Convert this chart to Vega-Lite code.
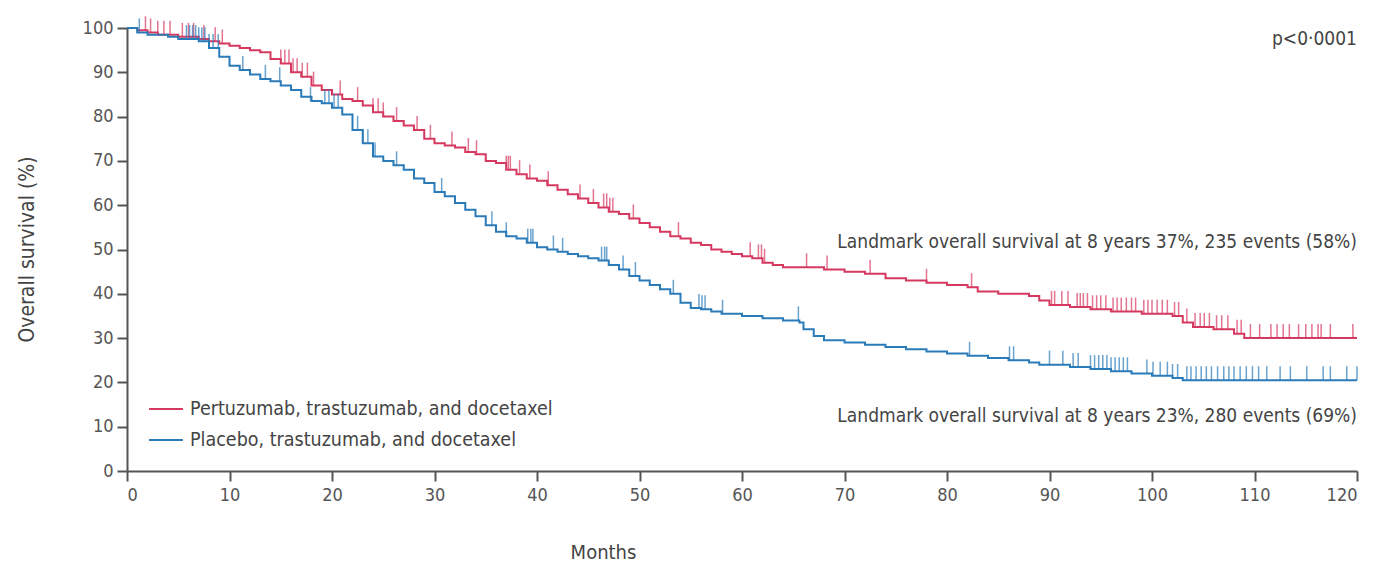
{
  "$schema": "https://vega.github.io/schema/vega-lite/v6.json",
  "width": 1230,
  "height": 443,
  "autosize": {"type": "none"},
  "padding": {"left": 127, "top": 28, "right": 22, "bottom": 91},
  "background": "white",
  "config": {
    "font": "'Liberation Sans Narrow', 'DejaVu Sans Condensed', 'Open Sans', sans-serif",
    "view": {"stroke": null},
    "axis": {
      "grid": false,
      "domainColor": "#555555",
      "domainWidth": 2,
      "tickColor": "#555555",
      "tickWidth": 2,
      "tickSize": 10,
      "labelColor": "#555555",
      "labelFontSize": 18,
      "titleColor": "#444444",
      "titleFontSize": 20,
      "titleFontWeight": "normal"
    },
    "legend": {
      "labelFontSize": 19.5,
      "labelColor": "#444444",
      "labelLimit": 600
    }
  },
  "datasets": {
    "km": [
      {"arm": "Pertuzumab, trastuzumab, and docetaxel", "month": 0, "surv": 100},
      {"arm": "Pertuzumab, trastuzumab, and docetaxel", "month": 1, "surv": 99.5},
      {"arm": "Pertuzumab, trastuzumab, and docetaxel", "month": 2, "surv": 99},
      {"arm": "Pertuzumab, trastuzumab, and docetaxel", "month": 3, "surv": 98.5},
      {"arm": "Pertuzumab, trastuzumab, and docetaxel", "month": 5, "surv": 98},
      {"arm": "Pertuzumab, trastuzumab, and docetaxel", "month": 7, "surv": 97.5},
      {"arm": "Pertuzumab, trastuzumab, and docetaxel", "month": 8, "surv": 97},
      {"arm": "Pertuzumab, trastuzumab, and docetaxel", "month": 9, "surv": 96.5},
      {"arm": "Pertuzumab, trastuzumab, and docetaxel", "month": 10, "surv": 96},
      {"arm": "Pertuzumab, trastuzumab, and docetaxel", "month": 11, "surv": 95.5},
      {"arm": "Pertuzumab, trastuzumab, and docetaxel", "month": 12, "surv": 95},
      {"arm": "Pertuzumab, trastuzumab, and docetaxel", "month": 13, "surv": 94.5},
      {"arm": "Pertuzumab, trastuzumab, and docetaxel", "month": 14, "surv": 93},
      {"arm": "Pertuzumab, trastuzumab, and docetaxel", "month": 15, "surv": 92},
      {"arm": "Pertuzumab, trastuzumab, and docetaxel", "month": 16, "surv": 90},
      {"arm": "Pertuzumab, trastuzumab, and docetaxel", "month": 17, "surv": 89},
      {"arm": "Pertuzumab, trastuzumab, and docetaxel", "month": 18, "surv": 87},
      {"arm": "Pertuzumab, trastuzumab, and docetaxel", "month": 19, "surv": 86},
      {"arm": "Pertuzumab, trastuzumab, and docetaxel", "month": 20, "surv": 85},
      {"arm": "Pertuzumab, trastuzumab, and docetaxel", "month": 21, "surv": 84},
      {"arm": "Pertuzumab, trastuzumab, and docetaxel", "month": 22, "surv": 83.5},
      {"arm": "Pertuzumab, trastuzumab, and docetaxel", "month": 23, "surv": 82.5},
      {"arm": "Pertuzumab, trastuzumab, and docetaxel", "month": 24, "surv": 81},
      {"arm": "Pertuzumab, trastuzumab, and docetaxel", "month": 25, "surv": 80},
      {"arm": "Pertuzumab, trastuzumab, and docetaxel", "month": 26, "surv": 79},
      {"arm": "Pertuzumab, trastuzumab, and docetaxel", "month": 27, "surv": 78},
      {"arm": "Pertuzumab, trastuzumab, and docetaxel", "month": 28, "surv": 77},
      {"arm": "Pertuzumab, trastuzumab, and docetaxel", "month": 29, "surv": 75},
      {"arm": "Pertuzumab, trastuzumab, and docetaxel", "month": 30, "surv": 74},
      {"arm": "Pertuzumab, trastuzumab, and docetaxel", "month": 31, "surv": 73.5},
      {"arm": "Pertuzumab, trastuzumab, and docetaxel", "month": 32, "surv": 73},
      {"arm": "Pertuzumab, trastuzumab, and docetaxel", "month": 33, "surv": 72},
      {"arm": "Pertuzumab, trastuzumab, and docetaxel", "month": 34, "surv": 71.5},
      {"arm": "Pertuzumab, trastuzumab, and docetaxel", "month": 35, "surv": 70},
      {"arm": "Pertuzumab, trastuzumab, and docetaxel", "month": 36, "surv": 69.5},
      {"arm": "Pertuzumab, trastuzumab, and docetaxel", "month": 37, "surv": 68},
      {"arm": "Pertuzumab, trastuzumab, and docetaxel", "month": 38, "surv": 67},
      {"arm": "Pertuzumab, trastuzumab, and docetaxel", "month": 39, "surv": 66},
      {"arm": "Pertuzumab, trastuzumab, and docetaxel", "month": 40, "surv": 65.5},
      {"arm": "Pertuzumab, trastuzumab, and docetaxel", "month": 41, "surv": 64.5},
      {"arm": "Pertuzumab, trastuzumab, and docetaxel", "month": 42, "surv": 63.5},
      {"arm": "Pertuzumab, trastuzumab, and docetaxel", "month": 43, "surv": 62.5},
      {"arm": "Pertuzumab, trastuzumab, and docetaxel", "month": 44, "surv": 61.5},
      {"arm": "Pertuzumab, trastuzumab, and docetaxel", "month": 45, "surv": 60.5},
      {"arm": "Pertuzumab, trastuzumab, and docetaxel", "month": 46, "surv": 59.5},
      {"arm": "Pertuzumab, trastuzumab, and docetaxel", "month": 47, "surv": 58.5},
      {"arm": "Pertuzumab, trastuzumab, and docetaxel", "month": 48, "surv": 58},
      {"arm": "Pertuzumab, trastuzumab, and docetaxel", "month": 49, "surv": 57},
      {"arm": "Pertuzumab, trastuzumab, and docetaxel", "month": 50, "surv": 56},
      {"arm": "Pertuzumab, trastuzumab, and docetaxel", "month": 51, "surv": 55},
      {"arm": "Pertuzumab, trastuzumab, and docetaxel", "month": 52, "surv": 54},
      {"arm": "Pertuzumab, trastuzumab, and docetaxel", "month": 53, "surv": 53},
      {"arm": "Pertuzumab, trastuzumab, and docetaxel", "month": 54, "surv": 52.5},
      {"arm": "Pertuzumab, trastuzumab, and docetaxel", "month": 55, "surv": 51.5},
      {"arm": "Pertuzumab, trastuzumab, and docetaxel", "month": 56, "surv": 51},
      {"arm": "Pertuzumab, trastuzumab, and docetaxel", "month": 57, "surv": 50},
      {"arm": "Pertuzumab, trastuzumab, and docetaxel", "month": 58, "surv": 49.5},
      {"arm": "Pertuzumab, trastuzumab, and docetaxel", "month": 59, "surv": 49},
      {"arm": "Pertuzumab, trastuzumab, and docetaxel", "month": 60, "surv": 48.5},
      {"arm": "Pertuzumab, trastuzumab, and docetaxel", "month": 61, "surv": 48},
      {"arm": "Pertuzumab, trastuzumab, and docetaxel", "month": 62, "surv": 47},
      {"arm": "Pertuzumab, trastuzumab, and docetaxel", "month": 63, "surv": 46.5},
      {"arm": "Pertuzumab, trastuzumab, and docetaxel", "month": 64, "surv": 46},
      {"arm": "Pertuzumab, trastuzumab, and docetaxel", "month": 68, "surv": 45.5},
      {"arm": "Pertuzumab, trastuzumab, and docetaxel", "month": 70, "surv": 45},
      {"arm": "Pertuzumab, trastuzumab, and docetaxel", "month": 72, "surv": 44.5},
      {"arm": "Pertuzumab, trastuzumab, and docetaxel", "month": 74, "surv": 43.5},
      {"arm": "Pertuzumab, trastuzumab, and docetaxel", "month": 76, "surv": 43},
      {"arm": "Pertuzumab, trastuzumab, and docetaxel", "month": 78, "surv": 42.5},
      {"arm": "Pertuzumab, trastuzumab, and docetaxel", "month": 80, "surv": 42},
      {"arm": "Pertuzumab, trastuzumab, and docetaxel", "month": 82, "surv": 41.5},
      {"arm": "Pertuzumab, trastuzumab, and docetaxel", "month": 83, "surv": 40.5},
      {"arm": "Pertuzumab, trastuzumab, and docetaxel", "month": 85, "surv": 40},
      {"arm": "Pertuzumab, trastuzumab, and docetaxel", "month": 88, "surv": 39.5},
      {"arm": "Pertuzumab, trastuzumab, and docetaxel", "month": 89, "surv": 38.5},
      {"arm": "Pertuzumab, trastuzumab, and docetaxel", "month": 90, "surv": 37.5},
      {"arm": "Pertuzumab, trastuzumab, and docetaxel", "month": 92, "surv": 37},
      {"arm": "Pertuzumab, trastuzumab, and docetaxel", "month": 94, "surv": 36.5},
      {"arm": "Pertuzumab, trastuzumab, and docetaxel", "month": 96, "surv": 36},
      {"arm": "Pertuzumab, trastuzumab, and docetaxel", "month": 99, "surv": 35.5},
      {"arm": "Pertuzumab, trastuzumab, and docetaxel", "month": 102, "surv": 35},
      {"arm": "Pertuzumab, trastuzumab, and docetaxel", "month": 103, "surv": 33.5},
      {"arm": "Pertuzumab, trastuzumab, and docetaxel", "month": 104, "surv": 32.5},
      {"arm": "Pertuzumab, trastuzumab, and docetaxel", "month": 106, "surv": 32},
      {"arm": "Pertuzumab, trastuzumab, and docetaxel", "month": 108, "surv": 31},
      {"arm": "Pertuzumab, trastuzumab, and docetaxel", "month": 109, "surv": 30},
      {"arm": "Pertuzumab, trastuzumab, and docetaxel", "month": 120, "surv": 30},
      {"arm": "Placebo, trastuzumab, and docetaxel", "month": 0, "surv": 100},
      {"arm": "Placebo, trastuzumab, and docetaxel", "month": 1, "surv": 99},
      {"arm": "Placebo, trastuzumab, and docetaxel", "month": 2, "surv": 98.5},
      {"arm": "Placebo, trastuzumab, and docetaxel", "month": 4, "surv": 98},
      {"arm": "Placebo, trastuzumab, and docetaxel", "month": 5, "surv": 97.5},
      {"arm": "Placebo, trastuzumab, and docetaxel", "month": 7, "surv": 97},
      {"arm": "Placebo, trastuzumab, and docetaxel", "month": 8, "surv": 95.5},
      {"arm": "Placebo, trastuzumab, and docetaxel", "month": 9, "surv": 93.5},
      {"arm": "Placebo, trastuzumab, and docetaxel", "month": 10, "surv": 91.5},
      {"arm": "Placebo, trastuzumab, and docetaxel", "month": 11, "surv": 90.5},
      {"arm": "Placebo, trastuzumab, and docetaxel", "month": 12, "surv": 89.5},
      {"arm": "Placebo, trastuzumab, and docetaxel", "month": 13, "surv": 88.5},
      {"arm": "Placebo, trastuzumab, and docetaxel", "month": 14, "surv": 88},
      {"arm": "Placebo, trastuzumab, and docetaxel", "month": 15, "surv": 87},
      {"arm": "Placebo, trastuzumab, and docetaxel", "month": 16, "surv": 86},
      {"arm": "Placebo, trastuzumab, and docetaxel", "month": 17, "surv": 84.5},
      {"arm": "Placebo, trastuzumab, and docetaxel", "month": 18, "surv": 83.5},
      {"arm": "Placebo, trastuzumab, and docetaxel", "month": 19, "surv": 83},
      {"arm": "Placebo, trastuzumab, and docetaxel", "month": 20, "surv": 82},
      {"arm": "Placebo, trastuzumab, and docetaxel", "month": 21, "surv": 80.5},
      {"arm": "Placebo, trastuzumab, and docetaxel", "month": 22, "surv": 77},
      {"arm": "Placebo, trastuzumab, and docetaxel", "month": 23, "surv": 74},
      {"arm": "Placebo, trastuzumab, and docetaxel", "month": 24, "surv": 71},
      {"arm": "Placebo, trastuzumab, and docetaxel", "month": 25, "surv": 70},
      {"arm": "Placebo, trastuzumab, and docetaxel", "month": 26, "surv": 69},
      {"arm": "Placebo, trastuzumab, and docetaxel", "month": 27, "surv": 68},
      {"arm": "Placebo, trastuzumab, and docetaxel", "month": 28, "surv": 66},
      {"arm": "Placebo, trastuzumab, and docetaxel", "month": 29, "surv": 65},
      {"arm": "Placebo, trastuzumab, and docetaxel", "month": 30, "surv": 63},
      {"arm": "Placebo, trastuzumab, and docetaxel", "month": 31, "surv": 62},
      {"arm": "Placebo, trastuzumab, and docetaxel", "month": 32, "surv": 60.5},
      {"arm": "Placebo, trastuzumab, and docetaxel", "month": 33, "surv": 59},
      {"arm": "Placebo, trastuzumab, and docetaxel", "month": 34, "surv": 57.5},
      {"arm": "Placebo, trastuzumab, and docetaxel", "month": 35, "surv": 55.5},
      {"arm": "Placebo, trastuzumab, and docetaxel", "month": 36, "surv": 54},
      {"arm": "Placebo, trastuzumab, and docetaxel", "month": 37, "surv": 53},
      {"arm": "Placebo, trastuzumab, and docetaxel", "month": 38, "surv": 52.5},
      {"arm": "Placebo, trastuzumab, and docetaxel", "month": 39, "surv": 51.5},
      {"arm": "Placebo, trastuzumab, and docetaxel", "month": 40, "surv": 50.5},
      {"arm": "Placebo, trastuzumab, and docetaxel", "month": 41, "surv": 50},
      {"arm": "Placebo, trastuzumab, and docetaxel", "month": 42, "surv": 49.5},
      {"arm": "Placebo, trastuzumab, and docetaxel", "month": 43, "surv": 49},
      {"arm": "Placebo, trastuzumab, and docetaxel", "month": 44, "surv": 48.5},
      {"arm": "Placebo, trastuzumab, and docetaxel", "month": 45, "surv": 48},
      {"arm": "Placebo, trastuzumab, and docetaxel", "month": 46, "surv": 47.5},
      {"arm": "Placebo, trastuzumab, and docetaxel", "month": 47, "surv": 46.5},
      {"arm": "Placebo, trastuzumab, and docetaxel", "month": 48, "surv": 45.5},
      {"arm": "Placebo, trastuzumab, and docetaxel", "month": 49, "surv": 44},
      {"arm": "Placebo, trastuzumab, and docetaxel", "month": 50, "surv": 43},
      {"arm": "Placebo, trastuzumab, and docetaxel", "month": 51, "surv": 42},
      {"arm": "Placebo, trastuzumab, and docetaxel", "month": 52, "surv": 41},
      {"arm": "Placebo, trastuzumab, and docetaxel", "month": 53, "surv": 40},
      {"arm": "Placebo, trastuzumab, and docetaxel", "month": 54, "surv": 38},
      {"arm": "Placebo, trastuzumab, and docetaxel", "month": 55, "surv": 36.8},
      {"arm": "Placebo, trastuzumab, and docetaxel", "month": 56, "surv": 36.5},
      {"arm": "Placebo, trastuzumab, and docetaxel", "month": 57, "surv": 36},
      {"arm": "Placebo, trastuzumab, and docetaxel", "month": 58, "surv": 35.5},
      {"arm": "Placebo, trastuzumab, and docetaxel", "month": 60, "surv": 35},
      {"arm": "Placebo, trastuzumab, and docetaxel", "month": 62, "surv": 34.5},
      {"arm": "Placebo, trastuzumab, and docetaxel", "month": 64, "surv": 34},
      {"arm": "Placebo, trastuzumab, and docetaxel", "month": 65.6, "surv": 33.5},
      {"arm": "Placebo, trastuzumab, and docetaxel", "month": 66, "surv": 32},
      {"arm": "Placebo, trastuzumab, and docetaxel", "month": 67, "surv": 30.5},
      {"arm": "Placebo, trastuzumab, and docetaxel", "month": 68, "surv": 29.5},
      {"arm": "Placebo, trastuzumab, and docetaxel", "month": 70, "surv": 29},
      {"arm": "Placebo, trastuzumab, and docetaxel", "month": 72, "surv": 28.5},
      {"arm": "Placebo, trastuzumab, and docetaxel", "month": 74, "surv": 28},
      {"arm": "Placebo, trastuzumab, and docetaxel", "month": 76, "surv": 27.5},
      {"arm": "Placebo, trastuzumab, and docetaxel", "month": 78, "surv": 27},
      {"arm": "Placebo, trastuzumab, and docetaxel", "month": 80, "surv": 26.5},
      {"arm": "Placebo, trastuzumab, and docetaxel", "month": 82, "surv": 26},
      {"arm": "Placebo, trastuzumab, and docetaxel", "month": 84, "surv": 25.5},
      {"arm": "Placebo, trastuzumab, and docetaxel", "month": 86, "surv": 25},
      {"arm": "Placebo, trastuzumab, and docetaxel", "month": 88, "surv": 24.5},
      {"arm": "Placebo, trastuzumab, and docetaxel", "month": 89, "surv": 24},
      {"arm": "Placebo, trastuzumab, and docetaxel", "month": 92, "surv": 23.5},
      {"arm": "Placebo, trastuzumab, and docetaxel", "month": 94, "surv": 23},
      {"arm": "Placebo, trastuzumab, and docetaxel", "month": 96, "surv": 22.5},
      {"arm": "Placebo, trastuzumab, and docetaxel", "month": 98, "surv": 22},
      {"arm": "Placebo, trastuzumab, and docetaxel", "month": 100, "surv": 21.5},
      {"arm": "Placebo, trastuzumab, and docetaxel", "month": 102, "surv": 21},
      {"arm": "Placebo, trastuzumab, and docetaxel", "month": 103, "surv": 20.5},
      {"arm": "Placebo, trastuzumab, and docetaxel", "month": 120, "surv": 20.5}
    ],
    "censored": [
      {"arm": "Pertuzumab, trastuzumab, and docetaxel", "month": 1.8, "surv": 99.5},
      {"arm": "Pertuzumab, trastuzumab, and docetaxel", "month": 2.3, "surv": 99},
      {"arm": "Pertuzumab, trastuzumab, and docetaxel", "month": 3.0, "surv": 98.5},
      {"arm": "Pertuzumab, trastuzumab, and docetaxel", "month": 3.6, "surv": 98.5},
      {"arm": "Pertuzumab, trastuzumab, and docetaxel", "month": 4.2, "surv": 98.5},
      {"arm": "Pertuzumab, trastuzumab, and docetaxel", "month": 5.4, "surv": 98},
      {"arm": "Pertuzumab, trastuzumab, and docetaxel", "month": 6.0, "surv": 98},
      {"arm": "Pertuzumab, trastuzumab, and docetaxel", "month": 6.5, "surv": 98},
      {"arm": "Pertuzumab, trastuzumab, and docetaxel", "month": 7.5, "surv": 97.5},
      {"arm": "Pertuzumab, trastuzumab, and docetaxel", "month": 8.6, "surv": 97},
      {"arm": "Pertuzumab, trastuzumab, and docetaxel", "month": 9.3, "surv": 96.5},
      {"arm": "Pertuzumab, trastuzumab, and docetaxel", "month": 15.0, "surv": 92},
      {"arm": "Pertuzumab, trastuzumab, and docetaxel", "month": 15.4, "surv": 92},
      {"arm": "Pertuzumab, trastuzumab, and docetaxel", "month": 15.8, "surv": 92},
      {"arm": "Pertuzumab, trastuzumab, and docetaxel", "month": 16.2, "surv": 90},
      {"arm": "Pertuzumab, trastuzumab, and docetaxel", "month": 16.6, "surv": 90},
      {"arm": "Pertuzumab, trastuzumab, and docetaxel", "month": 17.1, "surv": 89},
      {"arm": "Pertuzumab, trastuzumab, and docetaxel", "month": 17.6, "surv": 89},
      {"arm": "Pertuzumab, trastuzumab, and docetaxel", "month": 18.2, "surv": 87},
      {"arm": "Pertuzumab, trastuzumab, and docetaxel", "month": 20.8, "surv": 85},
      {"arm": "Pertuzumab, trastuzumab, and docetaxel", "month": 22.5, "surv": 83.5},
      {"arm": "Pertuzumab, trastuzumab, and docetaxel", "month": 24.0, "surv": 81},
      {"arm": "Pertuzumab, trastuzumab, and docetaxel", "month": 24.5, "surv": 81},
      {"arm": "Pertuzumab, trastuzumab, and docetaxel", "month": 25.0, "surv": 80},
      {"arm": "Pertuzumab, trastuzumab, and docetaxel", "month": 26.3, "surv": 79},
      {"arm": "Pertuzumab, trastuzumab, and docetaxel", "month": 28.3, "surv": 77},
      {"arm": "Pertuzumab, trastuzumab, and docetaxel", "month": 29.6, "surv": 75},
      {"arm": "Pertuzumab, trastuzumab, and docetaxel", "month": 31.7, "surv": 73.5},
      {"arm": "Pertuzumab, trastuzumab, and docetaxel", "month": 33.3, "surv": 72},
      {"arm": "Pertuzumab, trastuzumab, and docetaxel", "month": 34.1, "surv": 71.5},
      {"arm": "Pertuzumab, trastuzumab, and docetaxel", "month": 37.0, "surv": 68},
      {"arm": "Pertuzumab, trastuzumab, and docetaxel", "month": 37.2, "surv": 68},
      {"arm": "Pertuzumab, trastuzumab, and docetaxel", "month": 37.4, "surv": 68},
      {"arm": "Pertuzumab, trastuzumab, and docetaxel", "month": 38.3, "surv": 67},
      {"arm": "Pertuzumab, trastuzumab, and docetaxel", "month": 39.3, "surv": 66},
      {"arm": "Pertuzumab, trastuzumab, and docetaxel", "month": 41.1, "surv": 64.5},
      {"arm": "Pertuzumab, trastuzumab, and docetaxel", "month": 44.2, "surv": 61.5},
      {"arm": "Pertuzumab, trastuzumab, and docetaxel", "month": 45.5, "surv": 60.5},
      {"arm": "Pertuzumab, trastuzumab, and docetaxel", "month": 46.5, "surv": 59.5},
      {"arm": "Pertuzumab, trastuzumab, and docetaxel", "month": 46.8, "surv": 59.5},
      {"arm": "Pertuzumab, trastuzumab, and docetaxel", "month": 47.1, "surv": 58.5},
      {"arm": "Pertuzumab, trastuzumab, and docetaxel", "month": 47.4, "surv": 58.5},
      {"arm": "Pertuzumab, trastuzumab, and docetaxel", "month": 49.4, "surv": 57},
      {"arm": "Pertuzumab, trastuzumab, and docetaxel", "month": 53.8, "surv": 53},
      {"arm": "Pertuzumab, trastuzumab, and docetaxel", "month": 60.8, "surv": 48.5},
      {"arm": "Pertuzumab, trastuzumab, and docetaxel", "month": 61.6, "surv": 48},
      {"arm": "Pertuzumab, trastuzumab, and docetaxel", "month": 61.9, "surv": 48},
      {"arm": "Pertuzumab, trastuzumab, and docetaxel", "month": 62.2, "surv": 47},
      {"arm": "Pertuzumab, trastuzumab, and docetaxel", "month": 66.3, "surv": 46},
      {"arm": "Pertuzumab, trastuzumab, and docetaxel", "month": 68.3, "surv": 45.5},
      {"arm": "Pertuzumab, trastuzumab, and docetaxel", "month": 72.5, "surv": 44.5},
      {"arm": "Pertuzumab, trastuzumab, and docetaxel", "month": 78.0, "surv": 42.5},
      {"arm": "Pertuzumab, trastuzumab, and docetaxel", "month": 82.4, "surv": 41.5},
      {"arm": "Pertuzumab, trastuzumab, and docetaxel", "month": 90.2, "surv": 37.5},
      {"arm": "Pertuzumab, trastuzumab, and docetaxel", "month": 90.5, "surv": 37.5},
      {"arm": "Pertuzumab, trastuzumab, and docetaxel", "month": 91.2, "surv": 37.5},
      {"arm": "Pertuzumab, trastuzumab, and docetaxel", "month": 91.8, "surv": 37.5},
      {"arm": "Pertuzumab, trastuzumab, and docetaxel", "month": 92.7, "surv": 37},
      {"arm": "Pertuzumab, trastuzumab, and docetaxel", "month": 93.0, "surv": 37},
      {"arm": "Pertuzumab, trastuzumab, and docetaxel", "month": 93.3, "surv": 37},
      {"arm": "Pertuzumab, trastuzumab, and docetaxel", "month": 93.7, "surv": 37},
      {"arm": "Pertuzumab, trastuzumab, and docetaxel", "month": 94.2, "surv": 36.5},
      {"arm": "Pertuzumab, trastuzumab, and docetaxel", "month": 94.6, "surv": 36.5},
      {"arm": "Pertuzumab, trastuzumab, and docetaxel", "month": 95.0, "surv": 36.5},
      {"arm": "Pertuzumab, trastuzumab, and docetaxel", "month": 95.5, "surv": 36.5},
      {"arm": "Pertuzumab, trastuzumab, and docetaxel", "month": 96.2, "surv": 36},
      {"arm": "Pertuzumab, trastuzumab, and docetaxel", "month": 96.6, "surv": 36},
      {"arm": "Pertuzumab, trastuzumab, and docetaxel", "month": 97.0, "surv": 36},
      {"arm": "Pertuzumab, trastuzumab, and docetaxel", "month": 97.5, "surv": 36},
      {"arm": "Pertuzumab, trastuzumab, and docetaxel", "month": 98.0, "surv": 36},
      {"arm": "Pertuzumab, trastuzumab, and docetaxel", "month": 98.4, "surv": 36},
      {"arm": "Pertuzumab, trastuzumab, and docetaxel", "month": 99.2, "surv": 35.5},
      {"arm": "Pertuzumab, trastuzumab, and docetaxel", "month": 99.6, "surv": 35.5},
      {"arm": "Pertuzumab, trastuzumab, and docetaxel", "month": 100.0, "surv": 35.5},
      {"arm": "Pertuzumab, trastuzumab, and docetaxel", "month": 100.5, "surv": 35.5},
      {"arm": "Pertuzumab, trastuzumab, and docetaxel", "month": 101.0, "surv": 35.5},
      {"arm": "Pertuzumab, trastuzumab, and docetaxel", "month": 101.5, "surv": 35.5},
      {"arm": "Pertuzumab, trastuzumab, and docetaxel", "month": 102.2, "surv": 35},
      {"arm": "Pertuzumab, trastuzumab, and docetaxel", "month": 102.6, "surv": 35},
      {"arm": "Pertuzumab, trastuzumab, and docetaxel", "month": 103.4, "surv": 33.5},
      {"arm": "Pertuzumab, trastuzumab, and docetaxel", "month": 104.2, "surv": 32.5},
      {"arm": "Pertuzumab, trastuzumab, and docetaxel", "month": 104.7, "surv": 32.5},
      {"arm": "Pertuzumab, trastuzumab, and docetaxel", "month": 105.1, "surv": 32.5},
      {"arm": "Pertuzumab, trastuzumab, and docetaxel", "month": 105.6, "surv": 32.5},
      {"arm": "Pertuzumab, trastuzumab, and docetaxel", "month": 106.3, "surv": 32},
      {"arm": "Pertuzumab, trastuzumab, and docetaxel", "month": 106.8, "surv": 32},
      {"arm": "Pertuzumab, trastuzumab, and docetaxel", "month": 107.4, "surv": 32},
      {"arm": "Pertuzumab, trastuzumab, and docetaxel", "month": 108.3, "surv": 31},
      {"arm": "Pertuzumab, trastuzumab, and docetaxel", "month": 108.7, "surv": 31},
      {"arm": "Pertuzumab, trastuzumab, and docetaxel", "month": 109.6, "surv": 30},
      {"arm": "Pertuzumab, trastuzumab, and docetaxel", "month": 110.5, "surv": 30},
      {"arm": "Pertuzumab, trastuzumab, and docetaxel", "month": 111.6, "surv": 30},
      {"arm": "Pertuzumab, trastuzumab, and docetaxel", "month": 112.2, "surv": 30},
      {"arm": "Pertuzumab, trastuzumab, and docetaxel", "month": 112.8, "surv": 30},
      {"arm": "Pertuzumab, trastuzumab, and docetaxel", "month": 113.4, "surv": 30},
      {"arm": "Pertuzumab, trastuzumab, and docetaxel", "month": 114.3, "surv": 30},
      {"arm": "Pertuzumab, trastuzumab, and docetaxel", "month": 115.0, "surv": 30},
      {"arm": "Pertuzumab, trastuzumab, and docetaxel", "month": 115.6, "surv": 30},
      {"arm": "Pertuzumab, trastuzumab, and docetaxel", "month": 116.2, "surv": 30},
      {"arm": "Pertuzumab, trastuzumab, and docetaxel", "month": 116.5, "surv": 30},
      {"arm": "Pertuzumab, trastuzumab, and docetaxel", "month": 117.4, "surv": 30},
      {"arm": "Pertuzumab, trastuzumab, and docetaxel", "month": 119.6, "surv": 30},
      {"arm": "Placebo, trastuzumab, and docetaxel", "month": 1.2, "surv": 99},
      {"arm": "Placebo, trastuzumab, and docetaxel", "month": 5.8, "surv": 97.5},
      {"arm": "Placebo, trastuzumab, and docetaxel", "month": 6.1, "surv": 97.5},
      {"arm": "Placebo, trastuzumab, and docetaxel", "month": 6.4, "surv": 97.5},
      {"arm": "Placebo, trastuzumab, and docetaxel", "month": 6.7, "surv": 97.5},
      {"arm": "Placebo, trastuzumab, and docetaxel", "month": 7.0, "surv": 97},
      {"arm": "Placebo, trastuzumab, and docetaxel", "month": 7.3, "surv": 97},
      {"arm": "Placebo, trastuzumab, and docetaxel", "month": 7.6, "surv": 97},
      {"arm": "Placebo, trastuzumab, and docetaxel", "month": 8.0, "surv": 95.5},
      {"arm": "Placebo, trastuzumab, and docetaxel", "month": 8.4, "surv": 95.5},
      {"arm": "Placebo, trastuzumab, and docetaxel", "month": 8.9, "surv": 95.5},
      {"arm": "Placebo, trastuzumab, and docetaxel", "month": 11.3, "surv": 90.5},
      {"arm": "Placebo, trastuzumab, and docetaxel", "month": 13.5, "surv": 88.5},
      {"arm": "Placebo, trastuzumab, and docetaxel", "month": 14.9, "surv": 88},
      {"arm": "Placebo, trastuzumab, and docetaxel", "month": 17.9, "surv": 83.5},
      {"arm": "Placebo, trastuzumab, and docetaxel", "month": 19.3, "surv": 83},
      {"arm": "Placebo, trastuzumab, and docetaxel", "month": 19.7, "surv": 83},
      {"arm": "Placebo, trastuzumab, and docetaxel", "month": 20.2, "surv": 82},
      {"arm": "Placebo, trastuzumab, and docetaxel", "month": 20.6, "surv": 82},
      {"arm": "Placebo, trastuzumab, and docetaxel", "month": 22.5, "surv": 77},
      {"arm": "Placebo, trastuzumab, and docetaxel", "month": 23.0, "surv": 74},
      {"arm": "Placebo, trastuzumab, and docetaxel", "month": 23.5, "surv": 74},
      {"arm": "Placebo, trastuzumab, and docetaxel", "month": 24.2, "surv": 71},
      {"arm": "Placebo, trastuzumab, and docetaxel", "month": 26.3, "surv": 69},
      {"arm": "Placebo, trastuzumab, and docetaxel", "month": 30.7, "surv": 63},
      {"arm": "Placebo, trastuzumab, and docetaxel", "month": 35.6, "surv": 55.5},
      {"arm": "Placebo, trastuzumab, and docetaxel", "month": 37.0, "surv": 53},
      {"arm": "Placebo, trastuzumab, and docetaxel", "month": 39.1, "surv": 51.5},
      {"arm": "Placebo, trastuzumab, and docetaxel", "month": 39.4, "surv": 51.5},
      {"arm": "Placebo, trastuzumab, and docetaxel", "month": 39.6, "surv": 51.5},
      {"arm": "Placebo, trastuzumab, and docetaxel", "month": 41.6, "surv": 50},
      {"arm": "Placebo, trastuzumab, and docetaxel", "month": 42.5, "surv": 49.5},
      {"arm": "Placebo, trastuzumab, and docetaxel", "month": 46.3, "surv": 47.5},
      {"arm": "Placebo, trastuzumab, and docetaxel", "month": 46.6, "surv": 47.5},
      {"arm": "Placebo, trastuzumab, and docetaxel", "month": 46.8, "surv": 47.5},
      {"arm": "Placebo, trastuzumab, and docetaxel", "month": 48.4, "surv": 45.5},
      {"arm": "Placebo, trastuzumab, and docetaxel", "month": 49.6, "surv": 44},
      {"arm": "Placebo, trastuzumab, and docetaxel", "month": 53.3, "surv": 40},
      {"arm": "Placebo, trastuzumab, and docetaxel", "month": 55.8, "surv": 36.8},
      {"arm": "Placebo, trastuzumab, and docetaxel", "month": 56.1, "surv": 36.5},
      {"arm": "Placebo, trastuzumab, and docetaxel", "month": 56.4, "surv": 36.5},
      {"arm": "Placebo, trastuzumab, and docetaxel", "month": 58.1, "surv": 35.5},
      {"arm": "Placebo, trastuzumab, and docetaxel", "month": 65.5, "surv": 34},
      {"arm": "Placebo, trastuzumab, and docetaxel", "month": 82.2, "surv": 26},
      {"arm": "Placebo, trastuzumab, and docetaxel", "month": 86.1, "surv": 25},
      {"arm": "Placebo, trastuzumab, and docetaxel", "month": 86.5, "surv": 25},
      {"arm": "Placebo, trastuzumab, and docetaxel", "month": 90.0, "surv": 24},
      {"arm": "Placebo, trastuzumab, and docetaxel", "month": 91.3, "surv": 24},
      {"arm": "Placebo, trastuzumab, and docetaxel", "month": 92.3, "surv": 23.5},
      {"arm": "Placebo, trastuzumab, and docetaxel", "month": 92.8, "surv": 23.5},
      {"arm": "Placebo, trastuzumab, and docetaxel", "month": 94.0, "surv": 23},
      {"arm": "Placebo, trastuzumab, and docetaxel", "month": 94.4, "surv": 23},
      {"arm": "Placebo, trastuzumab, and docetaxel", "month": 94.8, "surv": 23},
      {"arm": "Placebo, trastuzumab, and docetaxel", "month": 95.2, "surv": 23},
      {"arm": "Placebo, trastuzumab, and docetaxel", "month": 95.6, "surv": 23},
      {"arm": "Placebo, trastuzumab, and docetaxel", "month": 96.0, "surv": 22.5},
      {"arm": "Placebo, trastuzumab, and docetaxel", "month": 96.4, "surv": 22.5},
      {"arm": "Placebo, trastuzumab, and docetaxel", "month": 96.8, "surv": 22.5},
      {"arm": "Placebo, trastuzumab, and docetaxel", "month": 97.2, "surv": 22.5},
      {"arm": "Placebo, trastuzumab, and docetaxel", "month": 97.6, "surv": 22.5},
      {"arm": "Placebo, trastuzumab, and docetaxel", "month": 99.5, "surv": 22},
      {"arm": "Placebo, trastuzumab, and docetaxel", "month": 100.1, "surv": 21.5},
      {"arm": "Placebo, trastuzumab, and docetaxel", "month": 100.8, "surv": 21.5},
      {"arm": "Placebo, trastuzumab, and docetaxel", "month": 101.5, "surv": 21.5},
      {"arm": "Placebo, trastuzumab, and docetaxel", "month": 102.0, "surv": 21},
      {"arm": "Placebo, trastuzumab, and docetaxel", "month": 102.5, "surv": 21},
      {"arm": "Placebo, trastuzumab, and docetaxel", "month": 103.4, "surv": 20.5},
      {"arm": "Placebo, trastuzumab, and docetaxel", "month": 103.8, "surv": 20.5},
      {"arm": "Placebo, trastuzumab, and docetaxel", "month": 104.3, "surv": 20.5},
      {"arm": "Placebo, trastuzumab, and docetaxel", "month": 104.8, "surv": 20.5},
      {"arm": "Placebo, trastuzumab, and docetaxel", "month": 105.3, "surv": 20.5},
      {"arm": "Placebo, trastuzumab, and docetaxel", "month": 105.8, "surv": 20.5},
      {"arm": "Placebo, trastuzumab, and docetaxel", "month": 106.4, "surv": 20.5},
      {"arm": "Placebo, trastuzumab, and docetaxel", "month": 107.0, "surv": 20.5},
      {"arm": "Placebo, trastuzumab, and docetaxel", "month": 107.5, "surv": 20.5},
      {"arm": "Placebo, trastuzumab, and docetaxel", "month": 108.0, "surv": 20.5},
      {"arm": "Placebo, trastuzumab, and docetaxel", "month": 108.6, "surv": 20.5},
      {"arm": "Placebo, trastuzumab, and docetaxel", "month": 109.2, "surv": 20.5},
      {"arm": "Placebo, trastuzumab, and docetaxel", "month": 109.8, "surv": 20.5},
      {"arm": "Placebo, trastuzumab, and docetaxel", "month": 110.4, "surv": 20.5},
      {"arm": "Placebo, trastuzumab, and docetaxel", "month": 111.2, "surv": 20.5},
      {"arm": "Placebo, trastuzumab, and docetaxel", "month": 112.5, "surv": 20.5},
      {"arm": "Placebo, trastuzumab, and docetaxel", "month": 113.5, "surv": 20.5},
      {"arm": "Placebo, trastuzumab, and docetaxel", "month": 115.1, "surv": 20.5},
      {"arm": "Placebo, trastuzumab, and docetaxel", "month": 116.7, "surv": 20.5},
      {"arm": "Placebo, trastuzumab, and docetaxel", "month": 117.4, "surv": 20.5},
      {"arm": "Placebo, trastuzumab, and docetaxel", "month": 119.0, "surv": 20.5},
      {"arm": "Placebo, trastuzumab, and docetaxel", "month": 120.0, "surv": 20.5}
    ],
    "notes": [
      {"month": 120, "surv": 97.5, "note": "p<0·0001"},
      {"month": 120, "surv": 51.7, "note": "Landmark overall survival at 8 years 37%, 235 events (58%)"},
      {"month": 120, "surv": 12.4, "note": "Landmark overall survival at 8 years 23%, 280 events (69%)"}
    ]
  },
  "layer": [
    {
      "data": {"name": "km"},
      "mark": {"type": "line", "interpolate": "step-after", "strokeWidth": 2},
      "encoding": {
        "x": {
          "field": "month",
          "type": "quantitative",
          "scale": {"domain": [0, 120], "nice": false},
          "axis": {
            "title": "Months",
            "values": [0, 10, 20, 30, 40, 50, 60, 70, 80, 90, 100, 110, 120],
            "labelPadding": 5,
            "titleX": 476,
            "titleY": 81,
            "titleAlign": "center",
            "titleBaseline": "middle"
          }
        },
        "y": {
          "field": "surv",
          "type": "quantitative",
          "scale": {"domain": [0, 100], "nice": false},
          "axis": {
            "title": "Overall survival (%)",
            "values": [0, 10, 20, 30, 40, 50, 60, 70, 80, 90, 100],
            "labelPadding": 4,
            "titleX": -100,
            "titleY": 221,
            "titleAngle": -90,
            "titleAlign": "center",
            "titleBaseline": "middle",
            "titleFontSize": 21
          }
        },
        "color": {
          "field": "arm",
          "type": "nominal",
          "scale": {
            "domain": ["Pertuzumab, trastuzumab, and docetaxel", "Placebo, trastuzumab, and docetaxel"],
            "range": ["#d5395f", "#2b7bb9"]
          },
          "legend": {
            "title": null,
            "orient": "bottom-left",
            "offset": 21,
            "symbolType": "stroke",
            "symbolSize": 1150,
            "symbolStrokeWidth": 2,
            "labelOffset": 6,
            "rowPadding": 3
          }
        }
      }
    },
    {
      "data": {"name": "censored"},
      "mark": {"type": "tick", "orient": "vertical", "size": 14, "thickness": 1.5, "yOffset": -7},
      "encoding": {
        "x": {"field": "month", "type": "quantitative"},
        "y": {"field": "surv", "type": "quantitative"},
        "color": {"field": "arm", "type": "nominal", "legend": null}
      }
    },
    {
      "data": {"name": "notes"},
      "mark": {"type": "text", "align": "right", "baseline": "middle", "fontSize": 19, "color": "#444444"},
      "encoding": {
        "x": {"field": "month", "type": "quantitative"},
        "y": {"field": "surv", "type": "quantitative"},
        "text": {"field": "note"}
      }
    }
  ]
}
